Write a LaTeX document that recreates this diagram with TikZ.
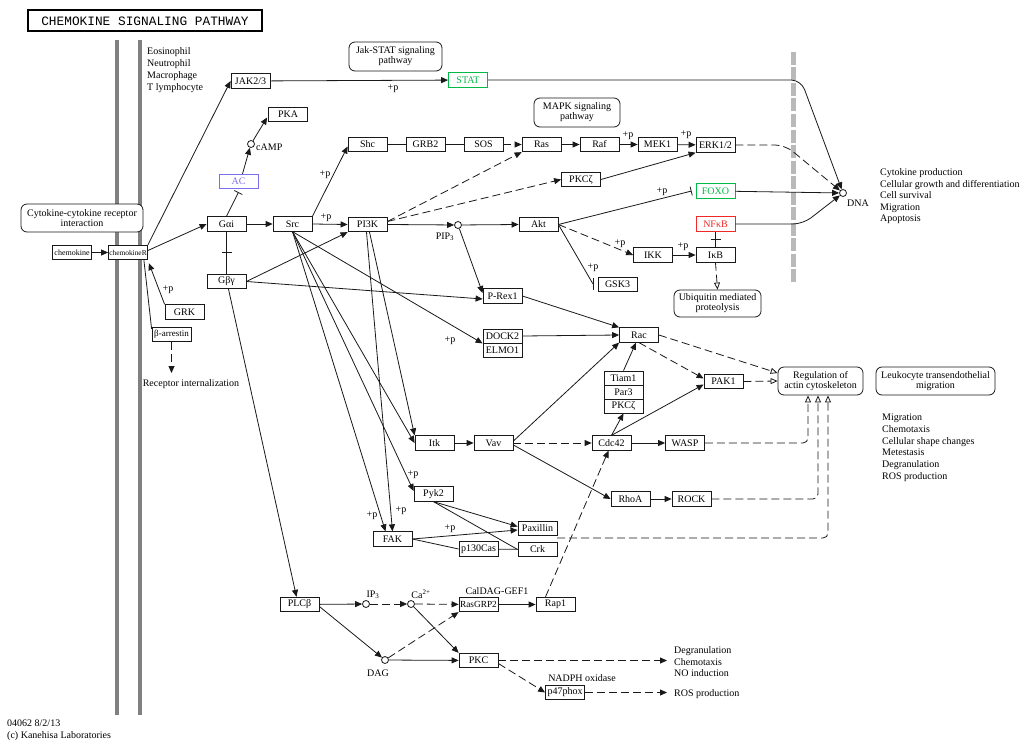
\documentclass[tikz,border=0pt]{standalone}
\usepackage{fontspec}
\setmainfont{Liberation Serif}
\newfontfamily\titlefont{Liberation Mono}
\usetikzlibrary{arrows.meta,calc}
\definecolor{acblue}{RGB}{125,110,235}
\definecolor{kgreen}{RGB}{0,185,70}
\definecolor{kred}{RGB}{240,40,40}
\definecolor{barcol}{RGB}{128,128,128}
\definecolor{dashbar}{RGB}{185,185,185}
\definecolor{ink}{RGB}{25,25,25}
\begin{document}
\begin{tikzpicture}[x=1pt,y=-1pt,
  gene/.style={draw=ink, line width=0.8pt, fill=white, minimum width=39pt, minimum height=14.5pt, inner sep=0pt, font=\fontsize{10}{10}\selectfont},
  pmap/.style={draw=ink, line width=0.8pt, fill=white, rounded corners=6pt, align=center, inner sep=0pt, font=\fontsize{10}{10}\selectfont},
  cmpd/.style={circle, draw=ink, fill=white, minimum size=7pt, inner sep=0pt, line width=0.8pt},
  lab/.style={font=\fontsize{10}{10}\selectfont, inner sep=0pt},
  conn/.style={line width=0.8pt, draw=ink},
  act/.style={conn, -{Triangle[length=7pt,width=6pt]}},
  dact/.style={act, dash pattern=on 8pt off 4pt},
  opentip/.style={conn, dash pattern=on 8pt off 4pt, -{Triangle[open,length=7pt,width=6pt]}},
  inh/.style={conn, -{Bar[width=9pt]}},
]
\useasboundingbox (0,0) rectangle (1024,749);
\fill[white] (0,0) rectangle (1024,749);

% membranes
\fill[barcol] (115,40) rectangle (119,715);
\fill[barcol] (138,40) rectangle (142,715);
\draw[dashbar, line width=5pt, dash pattern=on 13pt off 2.5pt] (793,52) -- (793,283);

% title
\node[draw=black, line width=2pt, minimum width=234pt, minimum height=21pt, inner sep=0pt, font=\titlefont\fontsize{12.8}{12}\selectfont] (title) at (145,21) {CHEMOKINE SIGNALING PATHWAY};

% pathway maps
\node[pmap, minimum width=122pt, minimum height=28pt] (cytok) at (82,218) {Cytokine-cytokine receptor\\interaction};
\node[pmap, minimum width=93pt, minimum height=29pt] (jakstat) at (395.5,56.5) {Jak-STAT signaling\\pathway};
\node[pmap, minimum width=86pt, minimum height=29pt] (mapk) at (577,112.5) {MAPK signaling\\pathway};
\node[pmap, minimum width=87pt, minimum height=27pt] (Ubiq) at (717.5,303.5) {Ubiquitin mediated\\proteolysis};
\node[pmap, minimum width=85pt, minimum height=28pt] (Reg) at (820.5,381) {Regulation of\\actin cytoskeleton};
\node[pmap, minimum width=119pt, minimum height=28pt] (leuko) at (935.5,381) {Leukocyte transendothelial\\migration};

% genes
\node[gene, font=\fontsize{8}{8}\selectfont] (chemokine) at (72,252.5) {chemokine};
\node[gene, font=\fontsize{7.4}{7.4}\selectfont] (chemR) at (128,252.5) {chemokineR};
\node[gene] (JAK) at (250.5,81) {JAK2/3};
\node[gene] (PKA) at (288,114.5) {PKA};
\node[gene, draw=acblue, text=acblue] (AC) at (238.5,181.5) {AC};
\node[gene] (Gai) at (226.5,224) {Gαi};
\node[gene] (Src) at (292.5,224) {Src};
\node[gene] (PI3K) at (367.5,224.5) {PI3K};
\node[gene] (Gby) at (226.5,281.5) {Gβγ};
\node[gene] (GRK) at (184.5,312) {GRK};
\node[gene, font=\fontsize{9}{9}\selectfont] (barr) at (171.5,334.5) {β-arrestin};
\node[gene, draw=kgreen, text=kgreen] (STAT) at (468,80) {STAT};
\node[gene] (Shc) at (367.5,144.5) {Shc};
\node[gene] (GRB2) at (425.5,144.5) {GRB2};
\node[gene] (SOS) at (483.5,144.5) {SOS};
\node[gene] (Ras) at (541.5,144.5) {Ras};
\node[gene] (Raf) at (599.5,144.5) {Raf};
\node[gene] (MEK1) at (657.5,144.5) {MEK1};
\node[gene] (ERK) at (715.5,145) {ERK1/2};
\node[gene] (PKCz) at (581,179.5) {PKCζ};
\node[gene, draw=kgreen, text=kgreen] (FOXO) at (715.5,191) {FOXO};
\node[gene, draw=kred, text=kred] (NFkB) at (715.5,224) {NFκB};
\node[gene] (IkB) at (715.5,255) {IκB};
\node[gene] (IKK) at (653,255) {IKK};
\node[gene] (Akt) at (538.5,224.5) {Akt};
\node[gene] (GSK3) at (617.5,284.5) {GSK3};
\node[gene] (PRex1) at (502.5,296) {P-Rex1};
\node[gene, minimum height=14pt] (DOCK2) at (502.5,336) {DOCK2};
\node[gene, minimum height=14pt] (ELMO1) at (502.5,350) {ELMO1};
\node[gene] (Rac) at (639,335) {Rac};
\node[gene, minimum height=14pt] (Tiam1) at (623.5,378) {Tiam1};
\node[gene, minimum height=14pt] (Par3) at (623.5,392) {Par3};
\node[gene, minimum height=14pt] (PKCz2) at (623.5,406) {PKCζ};
\node[gene] (PAK1) at (723.5,381.5) {PAK1};
\node[gene] (Itk) at (434.5,443) {Itk};
\node[gene] (Vav) at (493.5,443) {Vav};
\node[gene] (Cdc42) at (611.5,443) {Cdc42};
\node[gene] (WASP) at (685,443) {WASP};
\node[gene] (RhoA) at (630.5,499) {RhoA};
\node[gene] (ROCK) at (691.5,499) {ROCK};
\node[gene] (Pyk2) at (433.5,494) {Pyk2};
\node[gene] (FAK) at (392.5,539) {FAK};
\node[gene] (Paxillin) at (537.5,528.5) {Paxillin};
\node[gene] (Crk) at (537.5,549.5) {Crk};
\node[gene] (p130) at (478.5,549) {p130Cas};
\node[gene] (PLCb) at (299.5,604.5) {PLCβ};
\node[gene, font=\fontsize{9.3}{9.3}\selectfont] (RasGRP2) at (478.5,604.5) {RasGRP2};
\node[gene] (Rap1) at (555.5,604.5) {Rap1};
\node[gene] (PKC) at (478.5,660.5) {PKC};
\node[gene] (p47) at (565,692.5) {p47phox};

% compounds
\node[cmpd] (cAMP) at (251,144) {};
\node[cmpd] (PIP3) at (458,225) {};
\node[cmpd] (DNA) at (843,193) {};
\node[cmpd] (IP3) at (366,604) {};
\node[cmpd] (Ca) at (411,604) {};
\node[cmpd] (DAG) at (385,660) {};

% labels
\node[lab, anchor=west] (cAMPl) at (256,147) {cAMP};
\node[lab] (PIP3l) at (445,237) {PIP\textsubscript{3}};
\node[lab] (IP3l) at (373,595) {IP\textsubscript{3}};
\node[lab] (Cal) at (421,594) {Ca\textsuperscript{2+}};
\node[lab] (DAGl) at (378,673) {DAG};
\node[lab] (caldag) at (497,591) {CalDAG-GEF1};
\node[lab] (nadph) at (582,678) {NADPH oxidase};
\node[lab] (DNAl) at (858,203) {DNA};
\node[lab] (recint) at (191,384) {Receptor internalization};

\foreach \t [count=\i from 0] in {Eosinophil,Neutrophil,Macrophage,T lymphocyte}
  \node[lab, anchor=base west] (cell\i) at (147,{54.5+12*\i}) {\t};
\foreach \t [count=\i from 0] in {Cytokine production,Cellular growth and differentiation,Cell survival,Migration,Apoptosis}
  \node[lab, anchor=base west] (outa\i) at (880,{175.5+11.6*\i}) {\t};
\foreach \t [count=\i from 0] in {Migration,Chemotaxis,Cellular shape changes,Metestasis,Degranulation,ROS production}
  \node[lab, anchor=base west] (outb\i) at (882,{420.5+11.8*\i}) {\t};
\foreach \t [count=\i from 0] in {Degranulation,Chemotaxis,NO induction}
  \node[lab, anchor=base west] (outc\i) at (674,{653.5+11.5*\i}) {\t};
\node[lab, anchor=base west] (outd) at (674,696.5) {ROS production};
\node[lab, anchor=base west] (foot1) at (7,726.5) {04062 8/2/13};
\node[lab, anchor=base west] (foot2) at (7,738) {(c) Kanehisa Laboratories};

\foreach \x/\y [count=\i] in {393/89,325/175,326/218,628/136,686/135,662/192,620/244,683/247,593/268,168/290,450/341,413/475,372/516,401/511,450/529}
  \node[lab] (pp\i) at (\x,\y) {+p};

% coordinates
\coordinate (riTop) at (171.5,373);
\coordinate (gskbar) at (593,284);
\coordinate (paxout) at (557,538);
\coordinate (degr) at (667,660.5);
\coordinate (rosp) at (667,692.5);

% edges: receptor
\draw[act] (chemokine) -- (chemR);
\draw[act] (chemR.north east) -- (JAK.west);
\draw[act] ($(chemR.east)+(0,-2)$) -- (Gai.west);
\draw[act] (GRK.north west) -- ($(chemR.south east)+(1,3)$);
\draw[conn] ($(barr.north west)+(0,2)$) -- ($(chemR.south east)+(-4,0)$);
\draw[dact] (barr.south) -- (riTop);

% G proteins
\draw[inh] (Gai.north) -- ($(AC.south)+(0,3)$);
\draw[act] ($(AC.north)+(4,0)$) -- (cAMP);
\draw[act] (cAMP) -- ($(PKA.west)+(-1,3)$);
\draw[act] (Gai.east) -- (Src.west);
\draw[conn] (Gai.south) -- coordinate (gm) (Gby.north);
\draw[conn] ($(gm)+(-5,0)$) -- ($(gm)+(5,0)$);
\draw[act] (Src.north east) -- ($(Shc.west)+(0,2)$);
\draw[act] (Src.east) -- (PI3K.west);
\draw[act] (Gby.east) -- (PI3K.south west);
\draw[act] (Gby.east) -- ($(PRex1.west)+(0,3)$);
\draw[act] ($(Gby.south)+(2,0)$) -- ($(PLCb.north)+(-3,0)$);

% PI3K / Akt
\draw[act] (PI3K.east) -- (PIP3);
\draw[act] (PIP3) -- (Akt.west);
\draw[act] (PIP3) -- ($(PRex1.west)+(0,-3)$);
\draw[dact] ($(PI3K.east)+(0,-3)$) -- (Ras.south west);
\draw[dact] ($(PI3K.east)+(0,-3)$) -- (PKCz.west);
\draw[inh] (Akt.east) -- ($(FOXO.west)+(-4,0)$);
\draw[dact] (Akt.east) -- (IKK.west);
\draw[act] (IKK) -- (IkB);
\draw[conn] (Akt.east) -- (gskbar);
\draw[conn] ($(gskbar)+(0,-6)$) -- ($(gskbar)+(0,6)$);
\draw[conn] (IkB.north) -- coordinate (nm) (NFkB.south);
\draw[conn] ($(nm)+(-5,0)$) -- ($(nm)+(5,0)$);
\draw[opentip] (IkB.south) -- (Ubiq.north);

% MAPK
\draw[conn] (Shc) -- (GRB2);
\draw[conn] (GRB2) -- (SOS);
\draw[dact] (SOS) -- (Ras);
\draw[act] (Ras) -- (Raf);
\draw[act] (Raf) -- (MEK1);
\draw[act] (MEK1) -- (ERK);
\draw[act] (PKCz.east) -- (ERK.south west);

% to DNA
\draw[act] (JAK) -- (STAT);
\draw[act, rounded corners=10pt] (STAT.east) -- (801,80) -- (DNA);
\draw[dact, rounded corners=10pt] (ERK.east) -- (785,145) -- (DNA);
\draw[act] (FOXO) -- (DNA);
\draw[act, rounded corners=10pt] (NFkB.east) -- (803,224) -- (DNA);

% Src fan
\draw[act] (Src.south) -- (Itk.west);
\draw[act] (Src.south) -- ($(Pyk2.west)+(0,-3)$);
\draw[act] (Src.south) -- ($(FAK.north)+(-7,0)$);
\draw[act] (Src.south) -- (DOCK2.south west);
\draw[act] ($(PI3K.south)+(-1,0)$) -- (FAK.north);
\draw[act] ($(PI3K.south)+(2,0)$) -- (Itk.north west);

% Rac / Cdc42
\draw[act] (PRex1.east) -- (Rac.north west);
\draw[act] (DOCK2.east) -- (Rac.west);
\draw[act] (Itk) -- (Vav);
\draw[act] ($(Vav.east)+(0,-2)$) -- (Rac.south west);
\draw[dact] (Vav.east) -- (Cdc42.west);
\draw[act] ($(Vav.east)+(0,2)$) -- (RhoA.west);
\draw[act] (Cdc42) -- (WASP);
\draw[act] (Cdc42.north) -- (PKCz2.south);
\draw[act] (Cdc42.north) -- ($(PAK1.west)+(0,3)$);
\draw[act] (Tiam1.north) -- ($(Rac.south)+(-3,0)$);
\draw[dact] (Rac.south) -- ($(PAK1.west)+(0,-3)$);
\draw[opentip] (Rac.east) -- ($(Reg.west)+(0,-8)$);
\draw[opentip] (PAK1.east) -- (Reg.west);
\draw[act] (RhoA) -- (ROCK);
\draw[opentip, rounded corners=5pt] (WASP.east) -- (808,443) -- ($(Reg.south)+(-12.5,0)$);
\draw[opentip, rounded corners=5pt] (ROCK.east) -- (818,499) -- ($(Reg.south)+(-2.5,0)$);
\draw[opentip, rounded corners=5pt] (paxout) -- (828,538) -- ($(Reg.south)+(7.5,0)$);
\draw[dact] ($(Rap1.north)+(-10,0)$) -- ($(Cdc42.south)+(-3,0)$);

% focal adhesion
\draw[act] (Pyk2.south) -- ($(Paxillin.west)+(0,-2)$);
\draw[conn] (Pyk2.south) -- (Crk.west);
\draw[act] (FAK.east) -- ($(Paxillin.west)+(0,1.5)$);
\draw[conn] (FAK.east) -- (p130.west);
\draw[conn] (p130) -- (Crk);

% PLC branch
\draw[act] (PLCb) -- (IP3);
\draw[dact] (IP3) -- (Ca);
\draw[dact] (Ca) -- (RasGRP2);
\draw[act] (RasGRP2) -- (Rap1);
\draw[act] ($(PLCb.east)+(0,2)$) -- (DAG);
\draw[act] (DAG) -- (PKC);
\draw[dact] (DAG) -- (RasGRP2.south west);
\draw[act] (Ca) -- (PKC.north west);
\draw[dact] (PKC) -- (degr);
\draw[dact] ($(PKC.east)+(0,3)$) -- (p47.west);
\draw[dact] (p47) -- (rosp);
\end{tikzpicture}
\end{document}
